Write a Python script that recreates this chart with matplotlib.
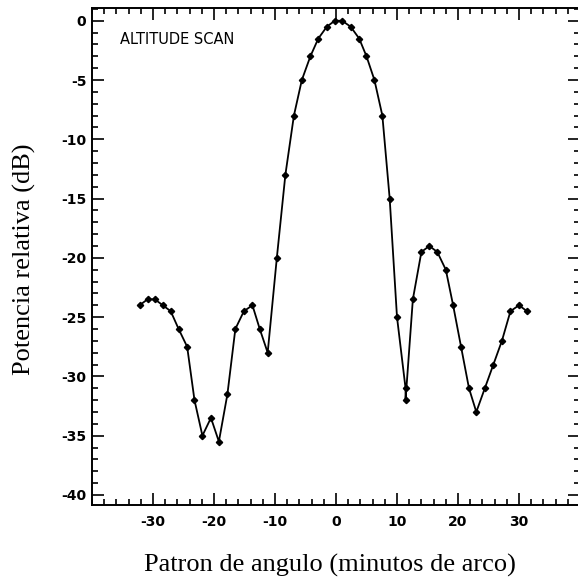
import numpy as np
import matplotlib
matplotlib.use("Agg")
import matplotlib.pyplot as plt
from matplotlib.ticker import MultipleLocator, FixedLocator, FixedFormatter

# angle (arc minutes) and relative power (dB)
ang = [-32.2, -30.9, -29.7, -28.4, -27.1, -25.8, -24.4, -23.2, -21.9, -20.5,
       -19.2, -17.8, -16.5, -15.1, -13.7, -12.5, -11.2, -9.7,
       -8.3, -6.9, -5.6, -4.2, -2.9, -1.5, -0.2, 1.0, 2.4, 3.8, 5.0, 6.3, 7.6, 8.8,
       10.0, 11.4, 11.4, 12.6, 14.0, 15.3, 16.6, 18.0, 19.2, 20.5, 21.8, 23.0,
       24.4, 25.8, 27.2, 28.6, 30.0, 31.3]
pot = [-24.0, -23.5, -23.5, -24.0, -24.5, -26.0, -27.5, -32.0, -35.0, -33.5,
       -35.5, -31.5, -26.0, -24.5, -24.0, -26.0, -28.0, -20.0,
       -13.0, -8.0, -5.0, -3.0, -1.5, -0.5, 0.0, 0.0, -0.5, -1.5, -3.0, -5.0, -8.0, -15.0,
       -25.0, -31.0, -32.0, -23.5, -19.5, -19.0, -19.5, -21.0, -24.0, -27.5, -31.0, -33.0,
       -31.0, -29.0, -27.0, -24.5, -24.0, -24.5]

xt = [-30, -20, -10, 0, 10, 20, 30]
xt_lab = ["-30", "-20", "-10", "0", "10", "20", "30"]
yt = [0, -5, -10, -15, -20, -25, -30, -35, -40]
yt_lab = ["0", "-5", "-10", "-15", "-20", "-25", "-30", "-35", "-40"]

fig = plt.figure(figsize=(5.78, 5.81), dpi=100)
ax = fig.add_axes([92/578, 76/581, 488/578, 496.7/581])

ax.plot(ang, pot, color="black", lw=1.3, marker="D", ms=3.2)

ax.set_xlim(-40, 40)
ax.set_ylim(-40.85, 1.05)

ax.xaxis.set_major_locator(FixedLocator(xt))
ax.xaxis.set_major_formatter(FixedFormatter(xt_lab))
ax.xaxis.set_minor_locator(MultipleLocator(2))
ax.yaxis.set_major_locator(FixedLocator(yt))
ax.yaxis.set_major_formatter(FixedFormatter(yt_lab))
ax.yaxis.set_minor_locator(MultipleLocator(1))

ax.tick_params(which="both", direction="in", top=True, right=True, width=1.2)
ax.tick_params(which="major", length=8.5)
ax.tick_params(which="minor", length=4.5)
ax.tick_params(axis="x", pad=7)
ax.tick_params(axis="y", pad=4)
for lab in ax.get_xticklabels() + ax.get_yticklabels():
    lab.set_fontfamily("DejaVu Sans")
    lab.set_fontweight("bold")
    lab.set_fontsize(10)
for s in ax.spines.values():
    s.set_linewidth(1.4)

ax.text(0.057, 0.952, "ALTITUDE SCAN", transform=ax.transAxes, fontsize=10.5,
        family="DejaVu Sans", va="top", ha="left")

fig.text(330/578, 1 - 572/581, "Patron de angulo (minutos de arco)",
         family="Liberation Serif", fontsize=19, ha="center", va="baseline")
fig.text(24/578, 1 - 259/581, "Potencia relativa (dB)",
         family="Liberation Serif", fontsize=19, ha="center", va="center",
         rotation=90)

fig.savefig("out.png", dpi=100)
